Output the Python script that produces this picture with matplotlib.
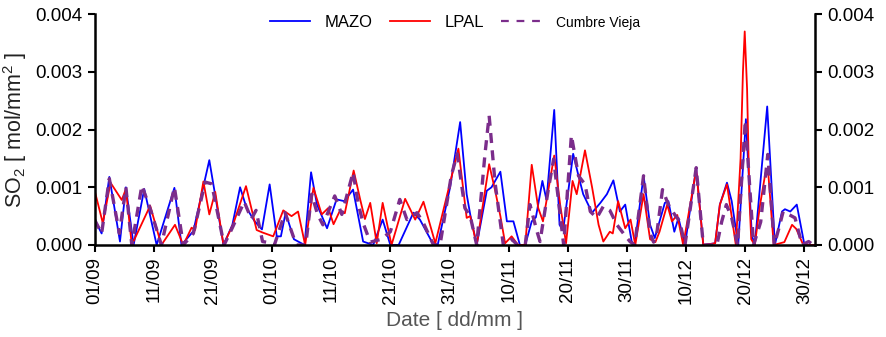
import matplotlib
matplotlib.use("Agg")
import matplotlib.pyplot as plt
from matplotlib.ticker import FormatStrFormatter

plt.rcParams['font.family'] = ['Liberation Sans', 'DejaVu Sans']
plt.rcParams['mathtext.fontset'] = 'custom'
plt.rcParams['mathtext.rm'] = 'Liberation Sans'
plt.rcParams['mathtext.it'] = 'Liberation Sans'

# days since 01/09
mazo_day = [0, 1.2, 2.5, 4.3, 5.3, 6.6, 8.4, 10.5, 13.5, 14.7, 16.7, 19.4, 21.8,
            23.3, 24.6, 25.7, 27.0, 28.3, 29.6, 30.8, 31.5, 32.3, 33.7, 35.5,
            36.6, 37.6, 39.3, 40.9, 42.2, 43.7, 45.4, 47.1, 48.7, 50.0, 51.4,
            53.9, 55.0, 57.0, 58.0, 60.1, 61.8, 62.9, 63.5, 64.6, 66.3, 67.1,
            68.6, 69.7, 70.8, 71.9, 72.8, 73.9, 74.6, 75.7, 76.4, 77.7, 78.6,
            79.2, 80.9, 81.8, 82.6, 84.1, 85.5, 86.6, 87.7, 88.8, 89.7, 90.8,
            91.3, 92.8, 93.9, 94.7, 96.4, 97.0, 98.0, 98.7, 99.8, 101.7, 102.9,
            104.9, 105.7, 106.9, 107.7, 108.8, 110.1, 111.1, 111.6, 113.7,
            115.0, 116.2, 116.7, 117.6, 118.7, 120.0, 121.8]
mazo_val = [0.00044, 0.0002, 0.00118, 0.00006, 0.001, 0.0, 0.00097, 0.0, 0.00099,
            0.0, 0.00024, 0.00147, 0.0,
            0.00035, 0.001, 0.00064, 0.00042, 0.00027, 0.00105, 0.00015, 0.00015,
            0.00056, 0.0001, 0.0,
            0.00126, 0.0007, 0.00029, 0.00079, 0.00076, 0.00096, 0.00006, 0.0,
            0.00044, 0.0, 0.0,
            0.00056, 0.00044, 0.00006, 0.0, 0.001, 0.00213, 0.00088, 0.00053,
            0.0, 0.00094, 0.001,
            0.00127, 0.00041, 0.00041, 0.0, 0.0, 0.00041, 0.00048, 0.00111,
            0.00078, 0.00234, 0.00035,
            0.00025, 0.00158, 0.0012, 0.00088, 0.00056, 0.00073, 0.00088,
            0.00112, 0.00058, 0.0007, 0.00006,
            0.0, 0.0012, 0.00035, 0.00012, 0.00073, 0.00076, 0.00023, 0.00047,
            0.0, 0.00134, 0.0,
            0.00003, 0.0007, 0.00108, 0.00076, 0.0, 0.00218, 0.00017, 0.0,
            0.0024,
            0.0, 0.00058, 0.00062, 0.00058, 0.0007, 0.0, 0.0]

lpal_day = [0, 1.4, 2.7, 4.6, 5.3, 6.3, 9.4, 11.3, 13.6, 15.0, 16.4, 17.0, 18.4,
            19.4, 20.4, 21.8, 23.5, 25.6, 27.4, 28.3, 30.2, 31.9, 33.3, 34.4,
            35.6, 37.0, 38.4, 39.5, 40.4, 41.5, 42.3, 43.8, 44.9, 45.7, 46.6,
            47.7, 48.7, 50.2, 52.5, 54.2, 55.6, 57.6, 60.1, 61.5, 62.9, 63.5,
            64.6, 66.7, 67.7, 68.6, 69.4, 70.5, 71.6, 72.8, 73.9, 75.0, 75.8,
            77.7, 78.7, 79.7, 80.8, 81.5, 82.9, 84.1, 85.2, 86.0, 87.1, 87.6,
            88.5, 89.7, 90.6, 91.4, 92.8, 93.9, 94.8, 95.5, 96.8, 97.6, 98.5,
            99.5, 101.7, 102.9, 104.9, 105.7, 106.9, 108.4, 109.2, 109.6, 109.9,
            110.3, 110.7, 111.0, 111.6, 112.5, 113.4, 113.9, 114.8, 116.6,
            117.9, 118.6, 119.8, 121.8]
lpal_val = [0.00095, 0.00038, 0.00108, 0.00078, 0.00097, 0.0, 0.00068, 0.0,
            0.00035, 0.0, 0.0003, 0.00026, 0.0011,
            0.00053, 0.00092, 0.0, 0.00038, 0.00102, 0.00026, 0.00022, 0.00015,
            0.0006, 0.0005, 0.00058,
            0.0, 0.00099, 0.00053, 0.00064, 0.00036, 0.0006, 0.00055, 0.00129,
            0.00079, 0.00045, 0.00073,
            0.00003, 0.00073, 0.0, 0.0008, 0.00044, 0.00075, 0.00003, 0.00108,
            0.00167, 0.00047, 0.0005,
            0.0, 0.0014, 0.00095, 0.0005, 0.00003, 0.00015, 0.0, 0.0, 0.00139,
            0.00064, 0.00041,
            0.00155, 0.0007, 0.00003, 0.00111, 0.00088, 0.00164, 0.001, 0.00035,
            0.00006, 0.00023, 0.0002,
            0.00076, 0.00029, 0.00044, 0.0, 0.00088, 0.0001, 0.00005, 0.00023,
            0.0007, 0.00041, 0.00052,
            0.0, 0.0013, 0.0, 0.00003, 0.0007, 0.00105, 0.0, 0.0015, 0.003,
            0.0037,
            0.0027, 0.0008, 0.0001, 0.0, 0.0007, 0.00125, 0.00122, 0.0, 0.00005,
            0.00035, 0.00028, 0.0, 0.0]

cv_day = [0, 1.2, 2.5, 4.2, 5.3, 6.3, 8.0, 9.5, 11.3, 13.5, 15.0, 16.7, 18.7,
          19.8, 21.9, 23.3, 25.3, 26.5, 27.3, 28.4, 29.5, 30.4, 32.2, 34.1,
          35.7, 36.7, 37.7, 38.6, 40.6, 41.8, 43.7, 44.6, 45.4, 46.6, 48.5,
          50.0, 51.6, 52.8, 54.5, 55.5, 57.3, 58.4, 60.3, 61.3, 62.6, 63.5,
          64.6, 66.0, 66.7, 67.7, 69.1, 70.5, 71.5, 72.8, 73.6, 74.8, 75.3,
          76.6, 77.6, 79.3, 80.6, 81.8, 82.9, 83.8, 84.9, 86.0, 87.1, 88.3,
          89.4, 90.5, 91.3, 92.8, 93.9, 94.5, 95.0, 96.0, 97.0, 98.1, 98.9,
          99.8, 101.7, 102.9, 105.2, 106.0, 106.8, 107.7, 108.7, 110.0, 111.4,
          112.6, 113.8, 114.9, 115.7, 116.4, 117.5, 118.4, 119.6, 120.7, 121.5,
          121.8]
cv_val = [0.00044, 0.0002, 0.00115, 0.0002, 0.001, 0.0, 0.00103, 0.0006, 0.0,
          0.001, 0.0, 0.0002, 0.00109,
          0.00106, 0.0, 0.0003, 0.00075, 0.00045, 0.0006, 0.00006, 0.00004, 0.0,
          0.00056, 0.0,
          0.0, 0.00088, 0.00053, 0.00035, 0.00085, 0.00053, 0.00126, 0.0007,
          0.00038, 0.00005, 0.0001,
          0.00023, 0.00079, 0.00044, 0.00056, 0.0004, 0.0, 0.0, 0.0012, 0.00158,
          0.00064, 0.0005,
          0.0, 0.00158, 0.00224, 0.00108, 0.0, 0.0001, 0.0, 0.0, 0.0007,
          0.00023, 0.00006,
          0.0009, 0.00149, 0.0, 0.0019, 0.0012, 0.00105, 0.00058, 0.00047,
          0.00067, 0.0006, 0.00035,
          0.0002, 0.00006, 0.0, 0.0012, 0.0002, 0.00005, 0.00017, 0.00096,
          0.0007, 0.00052, 0.00041,
          0.0, 0.00134, 0.0, 0.0, 0.0004, 0.0007, 0.00047, 0.0, 0.00216, 0.0,
          0.0004, 0.00157, 0.0, 0.0003, 0.00058, 0.00052, 0.00047, 0.0, 0.00006,
          0.0, 0.0]

tick_days = [0, 10, 20, 30, 40, 50, 60, 70, 80, 90, 100, 110, 120]
tick_labels = ['01/09', '11/09', '21/09', '01/10', '11/10', '21/10', '31/10',
               '10/11', '20/11', '30/11', '10/12', '20/12', '30/12']
y_ticks = [0.0, 0.001, 0.002, 0.003, 0.004]

fig = plt.figure(figsize=(8.86, 3.37), dpi=100)
ax = fig.add_axes([0.1067, 0.273, 0.8133, 0.685])

ax.plot(mazo_day, mazo_val, color='#0000ff', lw=1.3, label='MAZO')
ax.plot(lpal_day, lpal_val, color='#ff0000', lw=1.3, label='LPAL')
ax.plot(cv_day, cv_val, color='#7b2d8b', lw=2.4, ls=(0, (3, 2.2)),
        label='Cumbre Vieja')

ax.set_xlim(0, 121.8)
ax.set_ylim(0, 0.004)
ax.set_xticks(tick_days)
ax.set_xticklabels(tick_labels, rotation=90, fontsize=13.5)
ax.set_yticks(y_ticks)
ax.yaxis.set_major_formatter(FormatStrFormatter('%.3f'))
ax.tick_params(axis='y', labelsize=13.5, direction='out', length=5, width=1.5,
               right=True, labelright=True)
ax.tick_params(axis='x', direction='out', length=5, width=1.5)

for side in ['left', 'bottom', 'right']:
    ax.spines[side].set_linewidth(1.8)
ax.spines['top'].set_visible(False)

ax.set_ylabel(r'SO$_\mathrm{2}$ [ mol/mm$^\mathrm{2}$ ]', fontsize=15.5,
              color='#222222', labelpad=5)
ax.set_xlabel('Date [ dd/mm ]', fontsize=15, color='#555555', labelpad=5)

leg = ax.legend(loc='upper center', bbox_to_anchor=(0.5, 1.06), ncol=3,
                frameon=False, fontsize=12, handlelength=2.4,
                columnspacing=1.0, handletextpad=0.9)
leg.get_texts()[2].set_fontsize(10)
leg.get_lines()[2].set_linewidth(1.6)
leg.get_lines()[2].set_dashes((3.5, 3.5))

fig.savefig('out.png', dpi=100)
